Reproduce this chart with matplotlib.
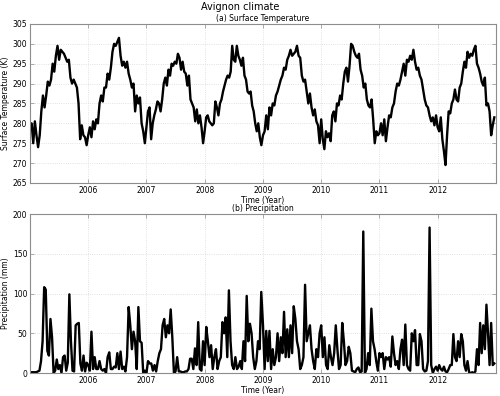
import matplotlib
matplotlib.use("Agg")
import matplotlib.pyplot as plt
import matplotlib.dates as mdates
import numpy as np
import pandas as pd


# Surface temperature (K), roughly every 10 days
t2005 = [279.5, 280, 275, 280.5, 277, 274, 277, 283, 287, 284, 287, 290.5,
         289.5, 291, 295, 293, 297, 299.5, 296, 298.5, 298, 297.5, 296.5,
         295.5, 296, 291.5, 290, 291, 290, 289, 285, 276, 279.5, 277, 276.5,
         274.5]
t2006 = [277, 279, 276.5, 280.5, 278.5, 281, 280, 285, 287, 285.5, 289, 289,
         292.5, 291, 294, 298, 300, 299.5, 300.5, 301.5, 297, 294.5, 295.5,
         294, 295.5, 292.5, 291, 289, 290, 283, 287, 285, 286.5, 280, 278, 275]
t2007 = [279, 283, 284, 276, 280, 282, 283.5, 285.5, 285, 283, 286, 290,
         291.5, 289.5, 293.5, 292, 295, 294.5, 295.5, 295, 297.5, 296.5, 293.5,
         295.5, 293, 292.5, 289.5, 292, 286, 285, 284, 280.5, 283.5, 280, 282,
         279, 275]
t2008 = [278, 281.5, 282, 280.5, 280, 279.5, 280, 285.5, 284, 282, 285, 286,
         288, 289.5, 291, 292, 291.5, 293, 299.5, 296, 295.5, 299.5, 297, 296,
         294.5, 296.5, 292, 291, 288, 287.5, 288, 284.5, 283, 280, 278, 280,
         276.5, 274.5]
t2009 = [277, 278, 282, 278.5, 284, 282, 285, 284.5, 287, 288, 289.5, 291,
         292, 294, 293.5, 296, 297, 298.5, 297, 297.5, 298, 299.5, 297, 296.5,
         292, 290.5, 291, 288, 285, 287.5, 284, 282, 283.5, 280.5, 279.5, 275]
t2010 = [281, 276, 273.5, 278, 276.5, 277.5, 275.5, 282, 283, 280.5, 285,
         284.5, 287, 286, 290, 293, 294, 290.5, 294.5, 300, 299.5, 298, 297,
         296.5, 297.5, 293.5, 292, 289, 290, 286, 284.5, 284, 286, 281, 275,
         278, 277]
t2011 = [277.5, 280, 277, 281, 275.5, 279, 282, 281.5, 284, 285, 288, 290,
         289.5, 291, 293, 295, 292, 296, 295.5, 297, 296, 298.5, 295.5, 293.5,
         294, 292, 291, 288.5, 286, 284.5, 284, 282, 280.5, 281.5, 279.5, 282]
t2012 = [279, 278, 281.5, 276, 273, 269.5, 277, 283, 282.5, 285, 286, 288.5,
         286, 285.5, 289, 290, 293, 295.5, 294, 298, 296.5, 297.5, 297, 298.5,
         299.5, 295, 294, 292.5, 290.5, 289.5, 291.5, 284.5, 285, 283, 277,
         279.5, 281.5]

# Precipitation (mm), roughly every 10 days
p2005 = [1, 1, 1, 1, 1, 2, 3, 15, 40, 108, 105, 28, 22, 68, 45, 0, 3, 17, 5,
         10, 0, 20, 22, 3, 13, 99, 40, 3, 2, 60, 62, 63, 12, 3, 22, 2, 13]
p2006 = [10, 3, 52, 5, 20, 5, 5, 15, 5, 3, 5, 0, 20, 26, 5, 5, 8, 7, 25, 5,
         27, 5, 8, 2, 20, 83, 60, 30, 52, 40, 5, 83, 40, 38, 0, 3]
p2007 = [0, 15, 12, 12, 3, 10, 2, 15, 25, 30, 60, 68, 45, 60, 50, 80, 45, 0,
         2, 20, 2, 2, 1, 1, 2, 2, 5, 18, 18, 5, 31, 10, 64, 5, 3, 40]
p2008 = [10, 58, 40, 20, 35, 5, 20, 30, 5, 15, 20, 64, 50, 70, 20, 104, 40,
         10, 5, 20, 5, 8, 15, 5, 40, 15, 97, 40, 62, 50, 20, 5, 15, 40, 30, 102]
p2009 = [60, 5, 53, 15, 53, 5, 30, 10, 20, 50, 15, 45, 25, 77, 20, 55, 20, 60,
         25, 84, 68, 40, 30, 5, 10, 20, 111, 40, 50, 60, 30, 15, 5, 30, 20, 50]
p2010 = [60, 20, 45, 10, 5, 35, 20, 10, 25, 60, 30, 5, 10, 63, 40, 10, 15, 33,
         25, 3, 2, 1, 5, 7, 1, 2, 178, 0, 5, 25, 10, 81, 40, 30, 15, 3]
p2011 = [25, 20, 25, 5, 20, 17, 20, 8, 46, 25, 10, 15, 5, 30, 42, 10, 61, 10,
         5, 3, 50, 40, 54, 10, 10, 49, 40, 5, 2, 3, 15, 183, 10, 0, 5, 8]
p2012 = [3, 10, 5, 3, 8, 2, 1, 5, 10, 10, 49, 20, 15, 40, 20, 49, 40, 10, 3,
         15, 1, 0, 1, 0, 2, 30, 10, 63, 25, 60, 30, 86, 50, 10, 63, 10, 12]

years = [2005, 2006, 2007, 2008, 2009, 2010, 2011, 2012]
temp_by_year = [t2005, t2006, t2007, t2008, t2009, t2010, t2011, t2012]
prec_by_year = [p2005, p2006, p2007, p2008, p2009, p2010, p2011, p2012]


def to_series(year_lists):
    dates, vals = [], []
    for year, v in zip(years, year_lists):
        start = pd.Timestamp(f"{year}-01-01")
        step = 365.25 / len(v)
        dates += [start + pd.Timedelta(days=k * step) for k in range(len(v))]
        vals += v
    return pd.Series(vals, index=pd.DatetimeIndex(dates))


temp = to_series(temp_by_year)
prec = to_series(prec_by_year)

plt.rcParams['font.family'] = ['DejaVu Sans']
fs = 5.5
spine_col = '#8c8c8c'

fig = plt.figure(figsize=(5.0, 3.96), dpi=100)
ax1 = fig.add_axes([0.06, 0.538, 0.932, 0.4015])
ax2 = fig.add_axes([0.06, 0.058, 0.932, 0.4015])

ax1.plot(temp.index, temp.values, color='black', lw=1.7)
ax2.plot(prec.index, prec.values, color='black', lw=1.7)

ax1.set_ylim(265, 305)
ax1.set_yticks(np.arange(265, 306, 5))
ax2.set_ylim(0, 200)
ax2.set_yticks([0, 50, 100, 150, 200])

ax1.set_title("(a) Surface Temperature", fontsize=fs, pad=2)
ax2.set_title("(b) Precipitation", fontsize=fs, pad=2)
ax1.set_ylabel("Surface Temperature (K)", fontsize=fs, labelpad=2)
ax2.set_ylabel("Precipitation (mm)", fontsize=fs, labelpad=2)

tick_years = [pd.Timestamp(f"{y}-01-01") for y in range(2006, 2013)]
for ax in [ax1, ax2]:
    ax.set_xlim(pd.Timestamp("2005-01-01"), pd.Timestamp("2013-01-01"))
    ax.set_xticks(tick_years)
    ax.xaxis.set_major_formatter(mdates.DateFormatter('%Y'))
    ax.set_xlabel("Time (Year)", fontsize=fs, labelpad=1)
    ax.grid(True, color='#d8d8d8', linestyle=':', linewidth=0.6)
    ax.tick_params(labelsize=fs, direction='in', length=3, width=0.5,
                   color=spine_col, top=True, right=True, pad=2)
    for s in ax.spines.values():
        s.set_color(spine_col)
        s.set_linewidth(0.8)

fig.text(0.48, 0.982, "Avignon climate", fontsize=7, ha='center', va='center')

fig.savefig("out.png", dpi=100)
